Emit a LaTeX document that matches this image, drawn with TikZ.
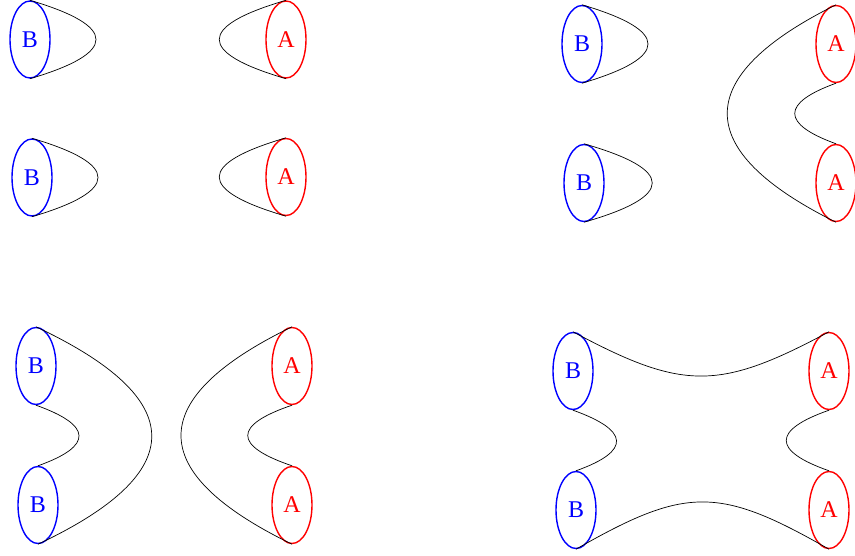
\documentclass[tikz,border=0pt]{standalone}
\usepackage{fontspec}
\setmainfont{Liberation Serif}
\usepackage{tikz}
\usetikzlibrary{shapes.geometric}
\tikzset{
	Bcirc/.style={ellipse,draw=blue,text=blue,line width=1.4pt,minimum width=40pt,minimum height=77pt,inner sep=0pt,font=\fontsize{24}{24}\selectfont},
	Acirc/.style={Bcirc,draw=red,text=red},
	tube/.style={line width=0.7pt}
}

\begin{document}
\begin{tikzpicture}[x=1pt,y=-1pt]
	\useasboundingbox (0,0) rectangle (855,556);
	\node[Bcirc] (b1) at (30,39.5) {B};
	\node[Bcirc] (b2) at (32,177.5) {B};
	\node[Acirc] (a1) at (286,39.5) {A};
	\node[Acirc] (a2) at (286,177) {A};
	\begin{scope}[tube]
		\draw (b1.north) .. controls +(88,26) and +(88,-26) .. (b1.south);
		\draw (b2.north) .. controls +(88,26) and +(88,-26) .. (b2.south);
		\draw (a1.north) .. controls +(-89,26) and +(-89,-26) .. (a1.south);
		\draw (a2.north) .. controls +(-89,26) and +(-89,-26) .. (a2.south);
	\end{scope}

	\node[Bcirc] (b3) at (582,44) {B};
	\node[Bcirc] (b4) at (584,183) {B};
	\node[Acirc] (a3) at (836,44) {A};
	\node[Acirc] (a4) at (836,183) {A};
	\begin{scope}[tube]
		\draw (b3.north) .. controls +(88,26) and +(88,-26) .. (b3.south);
		\draw (b4.north) .. controls +(91,26) and +(91,-26) .. (b4.south);
		\draw (a3.north) .. controls +(-145,72) and +(-145,-72) .. (a4.south);
		\draw (a3.south) .. controls +(-55,20) and +(-55,-20) .. (a4.north);
	\end{scope}

	\node[Bcirc] (b5) at (36,366) {B};
	\node[Bcirc] (b6) at (38,505) {B};
	\node[Acirc] (a5) at (292,366) {A};
	\node[Acirc] (a6) at (292,505) {A};
	\begin{scope}[tube]
		\draw (b5.north) .. controls +(153,72) and +(153,-72) .. (b6.south);
		\draw (b5.south) .. controls +(56,20) and +(56,-20) .. (b6.north);
		\draw (a5.north) .. controls +(-148,72) and +(-148,-72) .. (a6.south);
		\draw (a5.south) .. controls +(-59,20) and +(-59,-20) .. (a6.north);
	\end{scope}

	\node[Bcirc] (b7) at (573,371) {B};
	\node[Bcirc] (b8) at (576,510) {B};
	\node[Acirc] (a7) at (829,371) {A};
	\node[Acirc] (a8) at (829,510) {A};
	\begin{scope}[tube]
		\draw (b7.north) .. controls +(110,59) and +(-110,59) .. (a7.north);
		\draw (b8.south) .. controls +(110,-63) and +(-110,-63) .. (a8.south);
		\draw (b7.south) .. controls +(56,20) and +(56,-20) .. (b8.north);
		\draw (a7.south) .. controls +(-57,20) and +(-57,-20) .. (a8.north);
	\end{scope}
\end{tikzpicture}
\end{document}
